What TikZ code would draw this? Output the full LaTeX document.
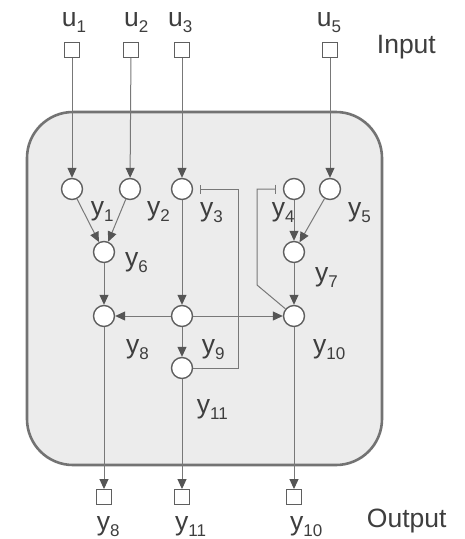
\documentclass[tikz,border=0pt]{standalone}
\usepackage{fontspec}
\setmainfont{Liberation Sans}
\usetikzlibrary{arrows.meta}
\definecolor{linec}{RGB}{120,120,120}
\definecolor{tipc}{RGB}{85,85,85}
\definecolor{nodec}{RGB}{95,95,95}
\definecolor{boxc}{RGB}{115,115,115}
\definecolor{boxfill}{RGB}{236,236,236}
\definecolor{txt}{RGB}{62,62,62}
\newcommand\yl[2]{#1\raisebox{-6pt}{\fontsize{17}{17}\selectfont #2}}
\begin{document}
\begin{tikzpicture}[x=1pt,y=-1pt,
  unit/.style={circle,draw=nodec,line width=1.4pt,fill=white,minimum size=21pt,inner sep=0},
  port/.style={rectangle,draw=nodec,line width=0.9pt,fill=white,minimum size=15pt,inner sep=0},
  conn/.style={draw=linec,line width=1pt,-{Triangle[length=10pt,width=9pt,color=tipc,fill=tipc]}},
  inh/.style={draw=linec,line width=1pt,-{Bar[width=9pt,color=linec]},shorten >=7pt},
  lbl/.style={anchor=base west,inner sep=0,text=txt,font=\fontsize{26.5}{30}\selectfont},
]
\useasboundingbox (0,0) rectangle (464,539);
\fill[white] (0,0) rectangle (464,539);
% container
\draw[draw=boxc,fill=boxfill,line width=2.6pt,rounded corners=46pt] (27,112) rectangle (382,465);

% ports
\node[port] (u1) at (72,50) {};
\node[port] (u2) at (131,50) {};
\node[port] (u3) at (182,50) {};
\node[port] (u5) at (330,50) {};
\node[port] (o8) at (104,497) {};
\node[port] (o11) at (182,497) {};
\node[port] (o10) at (294,497) {};

% units
\node[unit] (y1) at (72,189) {};
\node[unit] (y2) at (130,189) {};
\node[unit] (y3) at (182,189) {};
\node[unit] (y4) at (294,189) {};
\node[unit] (y5) at (330,189) {};
\node[unit] (y6) at (104,252) {};
\node[unit] (y7) at (294,252) {};
\node[unit] (y8) at (104,316) {};
\node[unit] (y9) at (182,316) {};
\node[unit] (y10) at (294,316) {};
\node[unit] (y11) at (182,368) {};

\coordinate (f1) at (238,368);
\coordinate (f2) at (238,189);
\coordinate (g1) at (257,285);
\coordinate (g2) at (257,189);

% connections
\draw[conn] (u1) -- (y1);
\draw[conn] (u2) -- (y2);
\draw[conn] (u3) -- (y3);
\draw[conn] (u5) -- (y5);
\draw[conn] (y1) -- (y6);
\draw[conn] (y2) -- (y6);
\draw[conn] (y4) -- (y7);
\draw[conn] (y5) -- (y7);
\draw[conn] (y6) -- (y8);
\draw[conn] (y3) -- (y9);
\draw[conn] (y7) -- (y10);
\draw[conn] (y9) -- (y8);
\draw[conn] (y9) -- (y10);
\draw[conn] (y9) -- (y11);
\draw[conn] (y8) -- (o8);
\draw[conn] (y11) -- (o11);
\draw[conn] (y10) -- (o10);
\draw[inh] (y11) -- (f1) -- (f2) -- (y3);
\draw[inh] (y10) -- (g1) -- (g2) -- (y4);

% labels
\node[lbl] (lu1) at (61.7,26.7) {\yl{u}{1}};
\node[lbl] (lu2) at (124,26.7) {\yl{u}{2}};
\node[lbl] (lu3) at (168,26.7) {\yl{u}{3}};
\node[lbl] (lu5) at (316.7,26.7) {\yl{u}{5}};
\node[lbl] (lin) at (376.7,53.3) {Input};
\node[lbl] (l1) at (90.7,215.5) {\yl{y}{1}};
\node[lbl] (l2) at (147,215.5) {\yl{y}{2}};
\node[lbl] (l3) at (200,216) {\yl{y}{3}};
\node[lbl] (l4) at (271.7,216) {\yl{y}{4}};
\node[lbl] (l5) at (348,216) {\yl{y}{5}};
\node[lbl] (l6) at (125,266) {\yl{y}{6}};
\node[lbl] (l7) at (315,281) {\yl{y}{7}};
\node[lbl] (l8) at (126,353) {\yl{y}{8}};
\node[lbl] (l9) at (201.7,353) {\yl{y}{9}};
\node[lbl] (l10) at (313,353) {\yl{y}{10}};
\node[lbl] (l11) at (196.7,413) {\yl{y}{11}};
\node[lbl] (lo8) at (96.7,530) {\yl{y}{8}};
\node[lbl] (lo11) at (175,530) {\yl{y}{11}};
\node[lbl] (lo10) at (290,530) {\yl{y}{10}};
\node[lbl] (lout) at (366.7,527) {Output};
\end{tikzpicture}
\end{document}
